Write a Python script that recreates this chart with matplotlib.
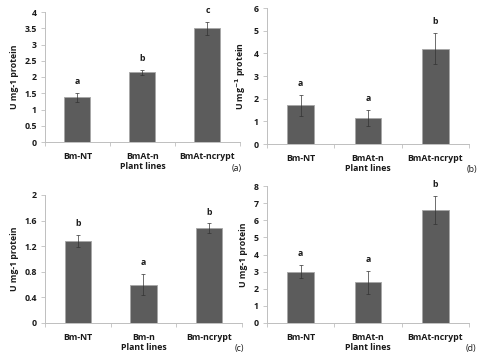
import matplotlib
matplotlib.use("Agg")
import matplotlib.pyplot as plt
import numpy as np

plt.rcParams['font.family'] = ['Open Sans', 'DejaVu Sans']

cats_a = ["Bm-NT", "BmAt-n", "BmAt-ncrypt"]
vals_a = [1.37, 2.14, 3.50]
errs_a = [0.15, 0.08, 0.20]
lets_a = ["a", "b", "c"]

cats_b = ["Bm-NT", "BmAt-n", "BmAt-ncrypt"]
vals_b = [1.70, 1.15, 4.20]
errs_b = [0.45, 0.35, 0.68]
lets_b = ["a", "a", "b"]

cats_c = ["Bm-NT", "Bm-n", "Bm-ncrypt"]
vals_c = [1.28, 0.60, 1.48]
errs_c = [0.10, 0.17, 0.08]
lets_c = ["b", "a", "b"]

cats_d = ["Bm-NT", "BmAt-n", "BmAt-ncrypt"]
vals_d = [3.00, 2.37, 6.60]
errs_d = [0.40, 0.65, 0.80]
lets_d = ["a", "a", "b"]

W, H = 485, 361
fig = plt.figure(figsize=(W/100, H/100), dpi=100)

def px_axes(l, r, t, b):
    return fig.add_axes([l/W, (H-b)/H, (r-l)/W, (b-t)/H])

panels = [
    (cats_a, vals_a, errs_a, lets_a, (45, 240, 12, 142), 4, 0.5, "U mg-1 protein", "(a)", 237),
    (cats_b, vals_b, errs_b, lets_b, (267, 469, 8, 144), 6, 1, r"U mg$^{\mathbf{-1}}$ protein", "(b)", 472),
    (cats_c, vals_c, errs_c, lets_c, (45, 242, 195, 323), 2, 0.4, "U mg-1 protein", "(c)", 239),
    (cats_d, vals_d, errs_d, lets_d, (267, 469, 186, 323), 8, 1, "U mg-1 protein", "(d)", 471),
]

spine_col = "#bfbfbf"
txt_col = "#1a1a1a"
fs = 6.3
for cats, vals, errs, lets, box, ymax, step, ylab, tag, tagx in panels:
    ax = px_axes(*box)
    x = np.arange(len(cats))
    ax.bar(x, vals, width=0.4, color="#5c5c5c", edgecolor="#a6a6a6", linewidth=0.6, zorder=2)
    ax.errorbar(x, vals, yerr=errs, fmt="none", ecolor="#333333", elinewidth=0.5,
                capsize=1.5, capthick=0.5, zorder=3)
    for xi, v, e, l in zip(x, vals, errs, lets):
        ax.text(xi, v + e + 0.085*ymax, l, ha="center", va="center", fontsize=fs,
                fontweight="bold", color=txt_col)
    ax.set_xlim(-0.5, len(cats)-0.5)
    ax.set_ylim(0, ymax)
    ticks = np.arange(0, ymax + step/2, step)
    ax.set_yticks(ticks)
    ax.set_yticklabels(["%g" % round(t, 2) for t in ticks], fontsize=fs,
                       fontweight="bold", color=txt_col)
    ax.set_xticks(x)
    ax.set_xticklabels(cats, fontsize=fs, fontweight="bold", color=txt_col)
    ax.set_xticks(np.arange(-0.5, len(cats), 1.0), minor=True)
    ax.tick_params(axis="x", which="major", length=0, pad=7)
    ax.tick_params(axis="x", which="minor", length=3, color=spine_col, width=0.6)
    ax.tick_params(axis="y", length=3, color=spine_col, width=0.6, pad=3)
    for s in ["top", "right"]:
        ax.spines[s].set_visible(False)
    for s in ["left", "bottom"]:
        ax.spines[s].set_color(spine_col)
        ax.spines[s].set_linewidth(0.7)
    ax.set_ylabel(ylab, fontsize=fs, fontweight="bold", color=txt_col, labelpad=4)
    ax.set_xlabel("Plant lines", fontsize=fs, fontweight="bold", color=txt_col, labelpad=1)
    l, r, t, b = box
    fig.text(tagx/W, (H - (b + 26))/H, tag, fontsize=fs, color=txt_col,
             ha="center", va="center")

fig.savefig("out.png", dpi=100)
